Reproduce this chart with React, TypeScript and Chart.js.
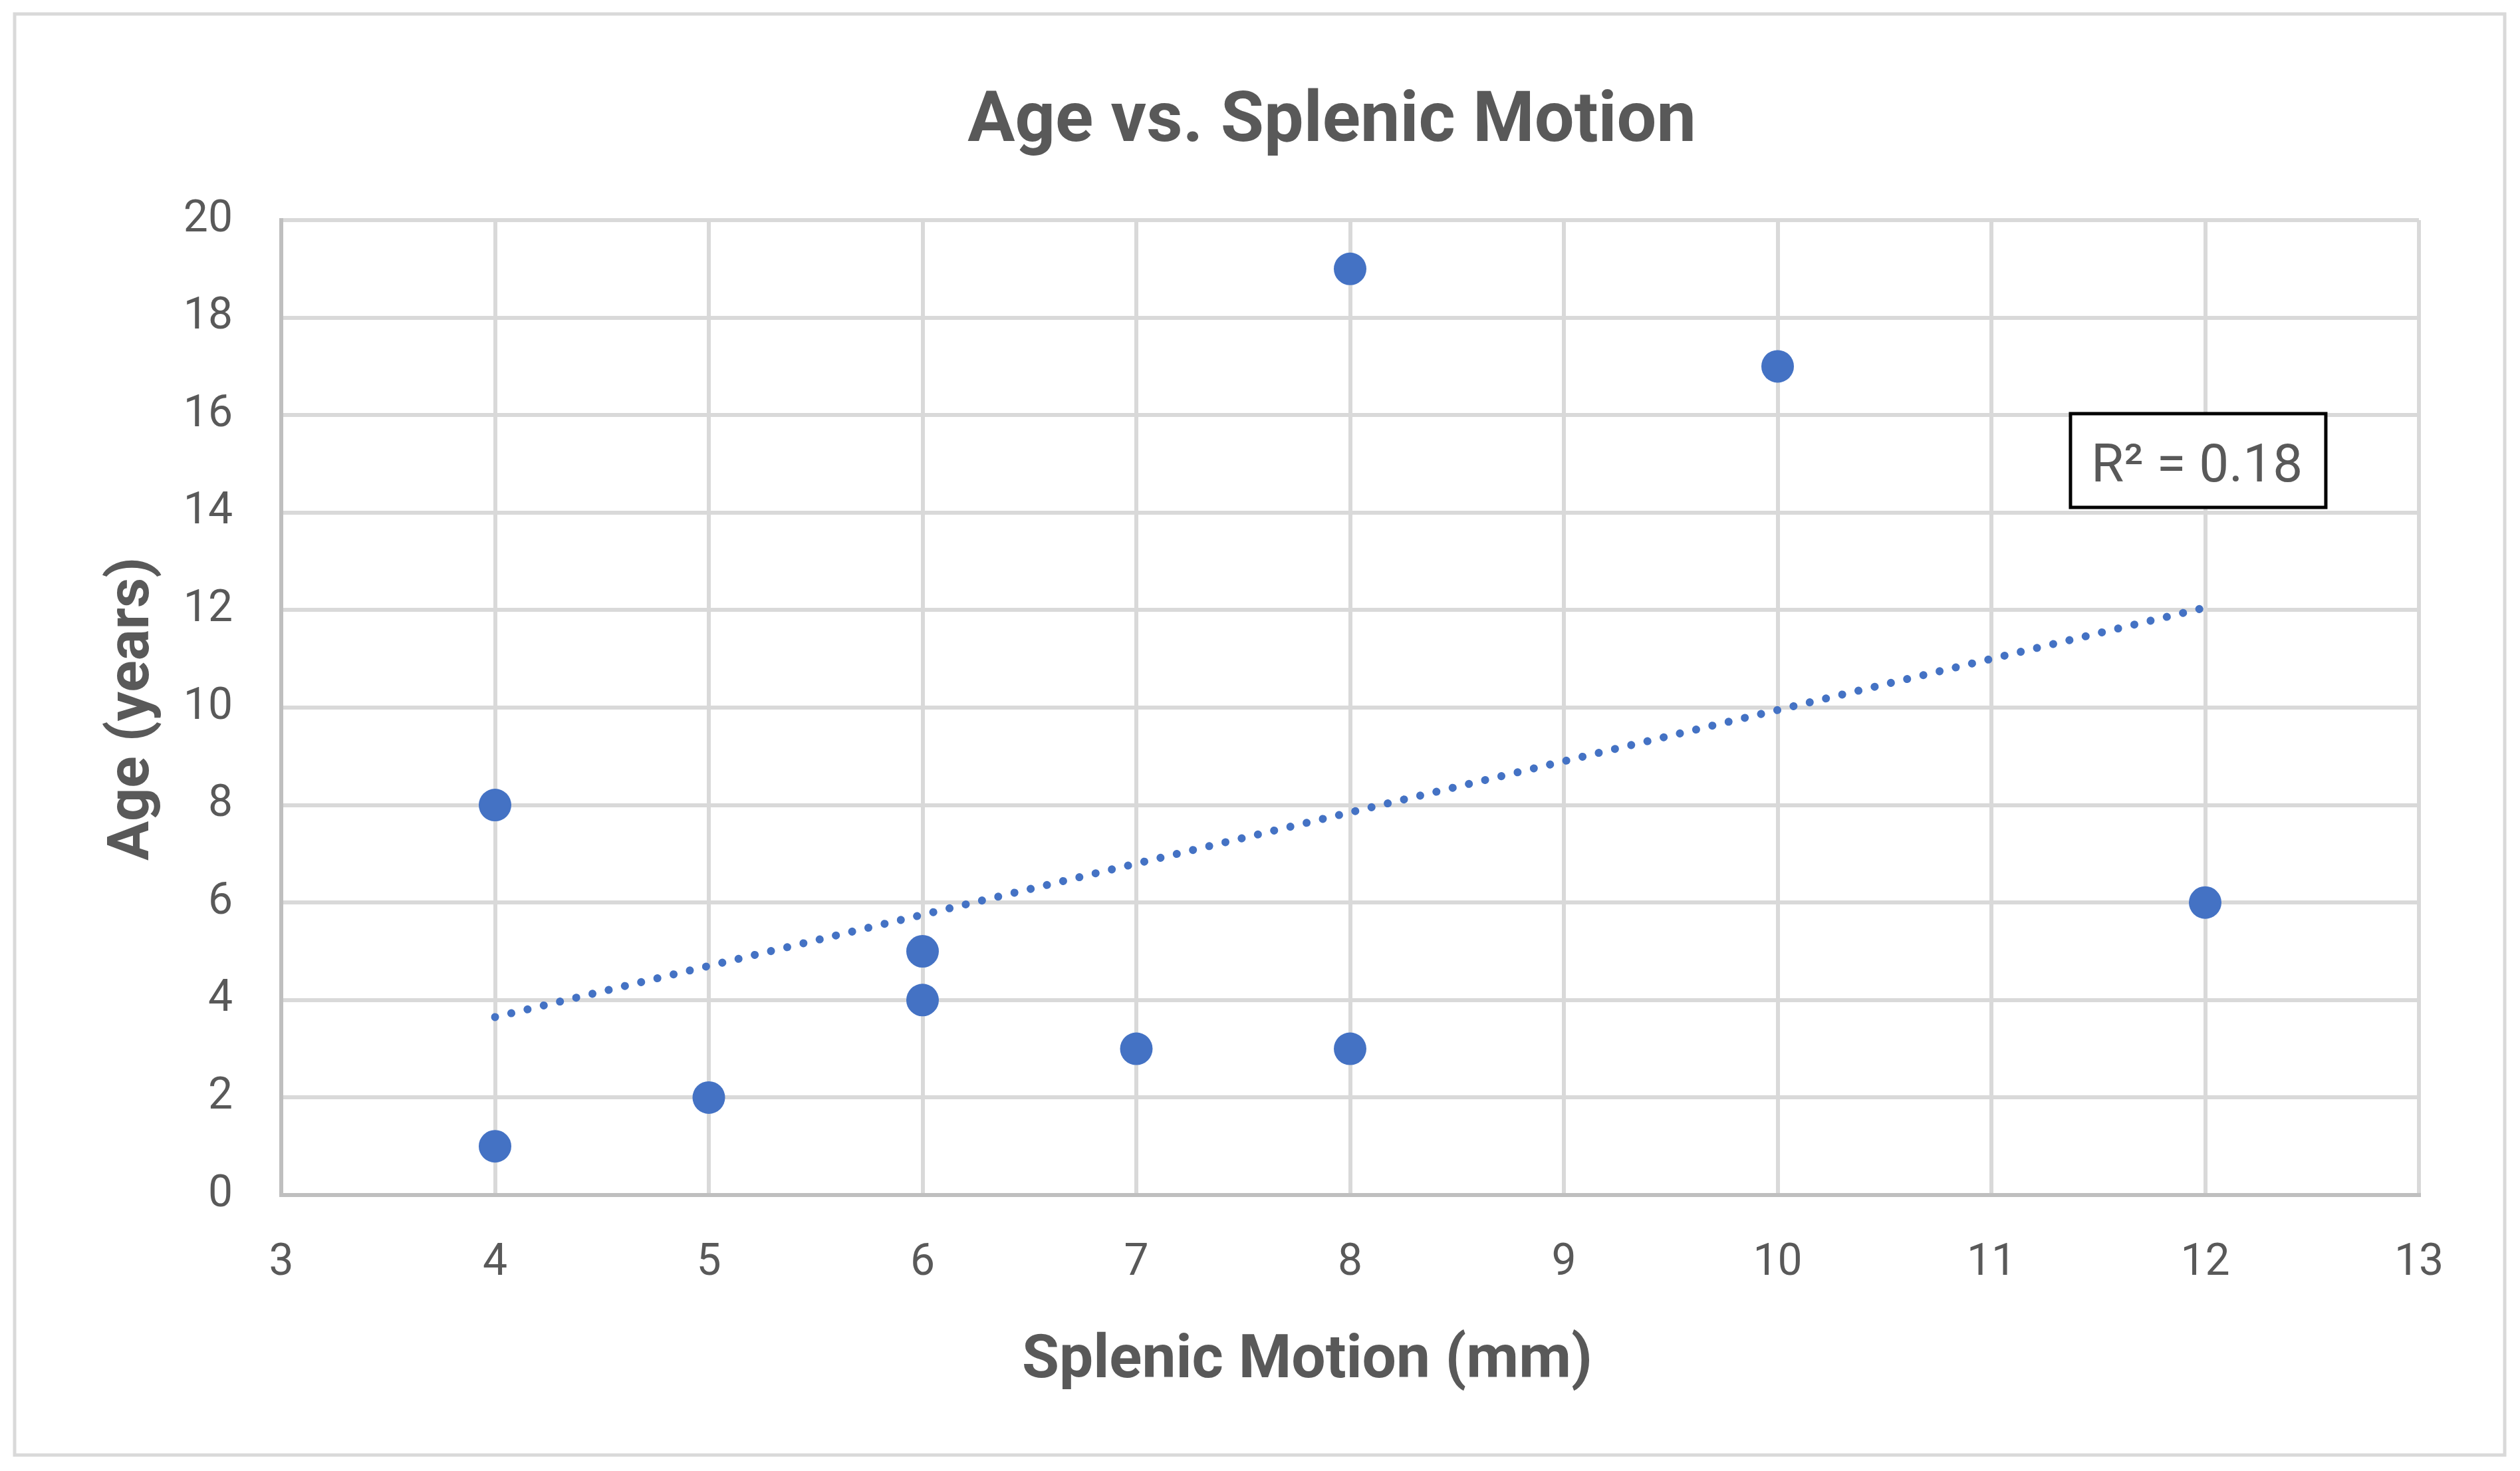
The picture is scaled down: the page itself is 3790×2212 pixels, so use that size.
import React, { useEffect, useRef } from "react";
import { Chart, registerables } from "chart.js";

Chart.register(...registerables);

// ---- data ----
const motionMm = [4, 4, 5, 6, 6, 7, 8, 8, 10, 12];
const ageYears = [8, 1, 2, 5, 4, 3, 3, 19, 17, 6];
const trendX = [4, 12];
const trendY = [3.65, 12.05];
const xTicks = [3, 4, 5, 6, 7, 8, 9, 10, 11, 12, 13];
const yTicks = [0, 2, 4, 6, 8, 10, 12, 14, 16, 18, 20];
const chartTitle = "Age vs. Splenic Motion";
const xTitle = "Splenic Motion (mm)";
const yTitle = "Age (years)";
const r2Label = "R\u00B2 = 0.18";
const r2Anchor = [11.37, 16.03]; // data coords of label box top-left

const W = 3790;
const H = 2212;
const TEXT = "#595959";
const BLUE = "#4472C4";
const FONT = "Roboto";

const decorPlugin = {
  id: "decor",
  afterDraw(chart: any) {
    const ctx = chart.ctx as CanvasRenderingContext2D;
    const xs = chart.scales.x;
    const ys = chart.scales.y;
    ctx.save();
    // outer frame
    ctx.strokeStyle = "#D9D9D9";
    ctx.lineWidth = 5;
    ctx.strokeRect(22, 21, 3745, 2167);

    ctx.fillStyle = TEXT;
    // chart title
    ctx.font = `bold 106px ${FONT}`;
    ctx.textAlign = "center";
    ctx.textBaseline = "alphabetic";
    ctx.fillText(chartTitle, 2003, 212);

    // x axis title
    ctx.font = `bold 91px ${FONT}`;
    ctx.fillText(xTitle, 1966, 2071);

    // y axis title
    ctx.save();
    ctx.translate(223, 1066);
    ctx.rotate(-Math.PI / 2);
    ctx.font = `bold 88px ${FONT}`;
    ctx.fillText(yTitle, 0, 0);
    ctx.restore();

    // R^2 label box
    const bx = xs.getPixelForValue(r2Anchor[0]);
    const by = ys.getPixelForValue(r2Anchor[1]);
    const bw = 384;
    const bh = 141;
    ctx.fillStyle = "#FFFFFF";
    ctx.fillRect(bx, by, bw, bh);
    ctx.strokeStyle = "#000000";
    ctx.lineWidth = 5;
    ctx.strokeRect(bx, by, bw, bh);
    ctx.fillStyle = TEXT;
    ctx.font = `80px ${FONT}`;
    ctx.textAlign = "left";
    ctx.fillText(r2Label, bx + 31, by + 102);
    ctx.restore();
  },
};

export default function App() {
  const ref = useRef<HTMLCanvasElement | null>(null);

  useEffect(() => {
    document.body.style.margin = "0";
    let chart: Chart | null = null;
    let cancelled = false;
    const make = () => {
      if (cancelled || !ref.current) return;
      chart = new Chart(ref.current, {
        type: "scatter",
        data: {
          datasets: [
            {
              label: "Age",
              data: motionMm.map((x, i) => ({ x, y: ageYears[i] })),
              backgroundColor: BLUE,
              borderWidth: 0,
              pointRadius: 24.5,
              pointHoverRadius: 24.5,
              pointStyle: "circle",
            },
            {
              label: "Trend",
              type: "line",
              data: trendX.map((x, i) => ({ x, y: trendY[i] })),
              borderColor: BLUE,
              borderWidth: 12,
              borderDash: [0.1, 25],
              borderCapStyle: "round",
              pointRadius: 0,
              fill: false,
              tension: 0,
            } as any,
          ],
        },
        options: {
          animation: false,
          responsive: false,
          devicePixelRatio: 1,
          events: [],
          layout: { padding: { top: 331, right: 152, left: 0, bottom: 0 } },
          plugins: {
            legend: { display: false },
            title: { display: false },
            tooltip: { enabled: false },
          },
          scales: {
            x: {
              type: "linear",
              min: 3,
              max: 13,
              afterBuildTicks: (s: any) => {
                s.ticks = xTicks.map((v) => ({ value: v }));
              },
              afterFit: (s: any) => {
                s.height = 415;
              },
              grid: { color: "#D9D9D9", lineWidth: 6, drawTicks: false },
              border: { display: true, color: "#BFBFBF", width: 6 },
              ticks: {
                padding: 64,
                color: TEXT,
                font: { family: FONT, size: 66 },
                maxRotation: 0,
                autoSkip: false,
              },
            },
            y: {
              type: "linear",
              min: 0,
              max: 20,
              afterBuildTicks: (s: any) => {
                s.ticks = yTicks.map((v) => ({ value: v }));
              },
              afterFit: (s: any) => {
                s.width = 423;
              },
              grid: { color: "#D9D9D9", lineWidth: 6, drawTicks: false },
              border: { display: true, color: "#BFBFBF", width: 6 },
              ticks: {
                padding: 73,
                color: TEXT,
                font: { family: FONT, size: 66 },
                autoSkip: false,
              },
            },
          },
        },
        plugins: [decorPlugin],
      } as any);
    };
    const fonts = (document as any).fonts;
    if (fonts && fonts.load) {
      Promise.all([
        fonts.load(`bold 100px ${FONT}`),
        fonts.load(`66px ${FONT}`),
      ]).then(make, make);
    } else {
      make();
    }
    return () => {
      cancelled = true;
      if (chart) chart.destroy();
    };
  }, []);

  return (
    <div style={{ width: W, height: H, background: "#FFFFFF" }}>
      <canvas ref={ref} width={W} height={H} style={{ width: W, height: H, display: "block" }} />
    </div>
  );
}
